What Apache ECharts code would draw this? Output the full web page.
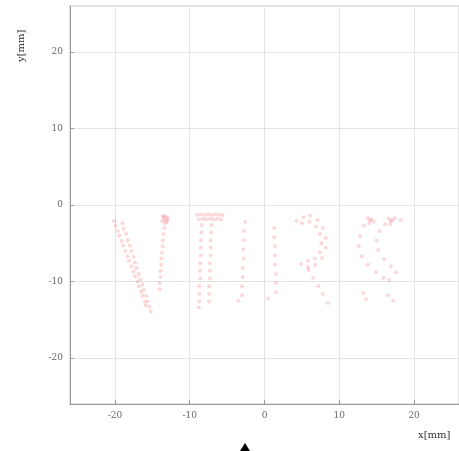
<!DOCTYPE html>
<html><head><meta charset="utf-8">
<script src="https://cdn.jsdelivr.net/npm/echarts@6/dist/echarts.min.js"></script>
<style>html,body{margin:0;padding:0;background:#fff}#c{width:459px;height:451px}</style>
</head><body><div id="c"></div>
<script>
const xTicks = [-20, -10, 0, 10, 20];
const yTicks = [-20, -10, 0, 10, 20];
const xName = 'x[mm]';
const yName = 'y[mm]';

const strokeN1 = [[-20.1,-2.1],[-19.9,-2.7],[-19.6,-3.4],[-19.4,-4.0],[-19.1,-4.7],[-18.9,-5.3],[-18.6,-6.0],[-18.3,-6.7],[-18.1,-7.3],[-17.8,-8.0],[-17.5,-8.7],[-17.3,-9.3],[-17.0,-10.0],[-16.8,-10.6],[-16.5,-11.3],[-16.3,-11.9],[-16.0,-12.6],[-15.9,-13.1]];
const strokeN2 = [[-19.0,-2.4],[-18.8,-3.1],[-18.5,-3.8],[-18.3,-4.6],[-18.0,-5.3],[-17.8,-6.0],[-17.5,-6.8],[-17.3,-7.5],[-17.1,-8.2],[-16.8,-9.0],[-16.6,-9.7],[-16.3,-10.4],[-16.1,-11.1],[-15.8,-11.9],[-15.6,-12.6],[-15.4,-13.3],[-15.2,-13.9]];
const strokeN3 = [[-13.6,-1.4],[-13.2,-1.5],[-13.4,-1.9],[-13.0,-2.0],[-13.7,-2.1],[-13.3,-2.4],[-12.9,-1.7],[-13.5,-1.6],[-13.1,-2.2],[-13.4,-3.0],[-13.5,-3.8],[-13.6,-4.6],[-13.6,-5.4],[-13.7,-6.2],[-13.8,-7.0],[-13.8,-7.8],[-13.9,-8.6],[-13.9,-9.4],[-14.0,-10.2],[-14.0,-11.0]];
const strokeT1 = [[-9.0,-1.3],[-8.5,-1.2],[-8.0,-1.3],[-7.5,-1.2],[-7.0,-1.3],[-6.5,-1.2],[-6.0,-1.3],[-5.6,-1.3],[-8.8,-1.9],[-8.3,-1.8],[-7.8,-1.9],[-7.3,-1.8],[-6.8,-1.9],[-6.3,-1.8],[-5.8,-1.9]];
const strokeT2 = [[-8.4,-2.6],[-8.4,-3.6],[-8.5,-4.6],[-8.5,-5.6],[-8.5,-6.6],[-8.6,-7.6],[-8.6,-8.6],[-8.6,-9.6],[-8.7,-10.6],[-8.7,-11.6],[-8.7,-12.6],[-8.8,-13.4]];
const strokeT3 = [[-7.1,-2.6],[-7.1,-3.6],[-7.2,-4.6],[-7.2,-5.6],[-7.2,-6.6],[-7.3,-7.6],[-7.3,-8.6],[-7.3,-9.6],[-7.4,-10.6],[-7.4,-11.6],[-7.4,-12.6]];
const strokeI = [[-2.6,-2.2],[-2.7,-3.4],[-2.7,-4.6],[-2.8,-5.8],[-2.8,-7.0],[-2.9,-8.2],[-2.9,-9.4],[-3.0,-10.6],[-3.0,-11.8]];
const strokeR1 = [[1.3,-3.0],[1.3,-4.2],[1.4,-5.4],[1.4,-6.6],[1.4,-7.8],[1.5,-9.0],[1.5,-10.2],[1.5,-11.4]];
const strokeR2 = [[4.3,-2.1],[5.2,-1.6],[6.1,-1.4],[7.1,-2.0],[7.8,-3.0],[8.2,-4.3],[8.2,-5.6],[7.7,-6.9],[6.8,-7.8],[5.8,-8.1],[4.9,-7.7],[5.0,-2.4],[6.0,-2.2],[6.9,-2.8],[7.4,-3.8],[7.6,-5.0],[7.4,-6.2],[6.7,-7.0],[5.8,-7.3]];
const strokeR3 = [[5.9,-8.5],[6.5,-9.5],[7.2,-10.6],[7.8,-11.6],[8.5,-12.8]];
const strokeS1 = [[13.8,-1.7],[14.3,-1.9],[14.0,-2.4],[14.6,-2.2],[14.1,-2.0],[16.6,-1.8],[17.1,-2.0],[16.8,-2.5],[17.4,-1.7],[16.9,-2.1],[18.2,-2.0]];
const strokeS2 = [[13.3,-2.7],[12.8,-4.1],[12.6,-5.4],[13.0,-6.7],[13.8,-7.8],[14.9,-8.8],[15.9,-9.5],[16.7,-9.8]];
const strokeS3 = [[16.1,-2.5],[15.4,-3.4],[15.0,-4.6],[15.2,-5.9],[16.0,-7.1],[16.9,-8.0],[17.6,-8.8]];
const strokeFaint = [[13.2,-11.5],[13.6,-12.3],[16.5,-11.8],[17.2,-12.5],[-3.5,-12.5],[0.5,-12.2]];

const allStrokes = [strokeN1, strokeN2, strokeN3, strokeT1, strokeT2, strokeT3, strokeI, strokeR1, strokeR2, strokeR3, strokeS1, strokeS2, strokeS3, strokeFaint];

const chart = echarts.init(document.getElementById('c'), null, {renderer: 'canvas'});
const axisFont = {fontFamily: 'DejaVu Serif', fontSize: 9, color: '#666'};
chart.setOption({
  animation: false,
  grid: {left: 70, top: 6, width: 400, height: 398, show: true, borderColor: '#c8c8c8', borderWidth: 1, containLabel: false},
  xAxis: {
    type: 'value', min: -26, max: 26,
    axisLine: {show: true, onZero: false, lineStyle: {color: '#999'}},
    axisTick: {show: true, inside: true, length: 4, customValues: xTicks, lineStyle: {color: '#999'}},
    axisLabel: Object.assign({customValues: xTicks, margin: 7}, axisFont),
    splitLine: {show: true, lineStyle: {color: '#e4e4e4'}}
  },
  yAxis: {
    type: 'value', min: -26, max: 26,
    axisLine: {show: true, onZero: false, lineStyle: {color: '#999'}},
    axisTick: {show: true, inside: true, length: 4, customValues: yTicks, lineStyle: {color: '#999'}},
    axisLabel: Object.assign({customValues: yTicks, margin: 7}, axisFont),
    splitLine: {show: true, lineStyle: {color: '#e4e4e4'}}
  },
  series: allStrokes.map(s => ({
    type: 'scatter', data: s, symbolSize: 4,
    itemStyle: {color: 'rgba(235,80,90,0.27)'}
  })),
  graphic: [
    {type: 'text', left: 418, top: 430, style: {text: xName, fontFamily: 'DejaVu Serif', fontSize: 10, fill: '#333'}},
    {type: 'text', x: 16, y: 62, rotation: Math.PI / 2, style: {text: yName, fontFamily: 'DejaVu Serif', fontSize: 10, fill: '#333'}},
    {type: 'polygon', shape: {points: [[240, 451], [250, 451], [245, 443]]}, style: {fill: '#000'}}
  ]
});
</script></body></html>
